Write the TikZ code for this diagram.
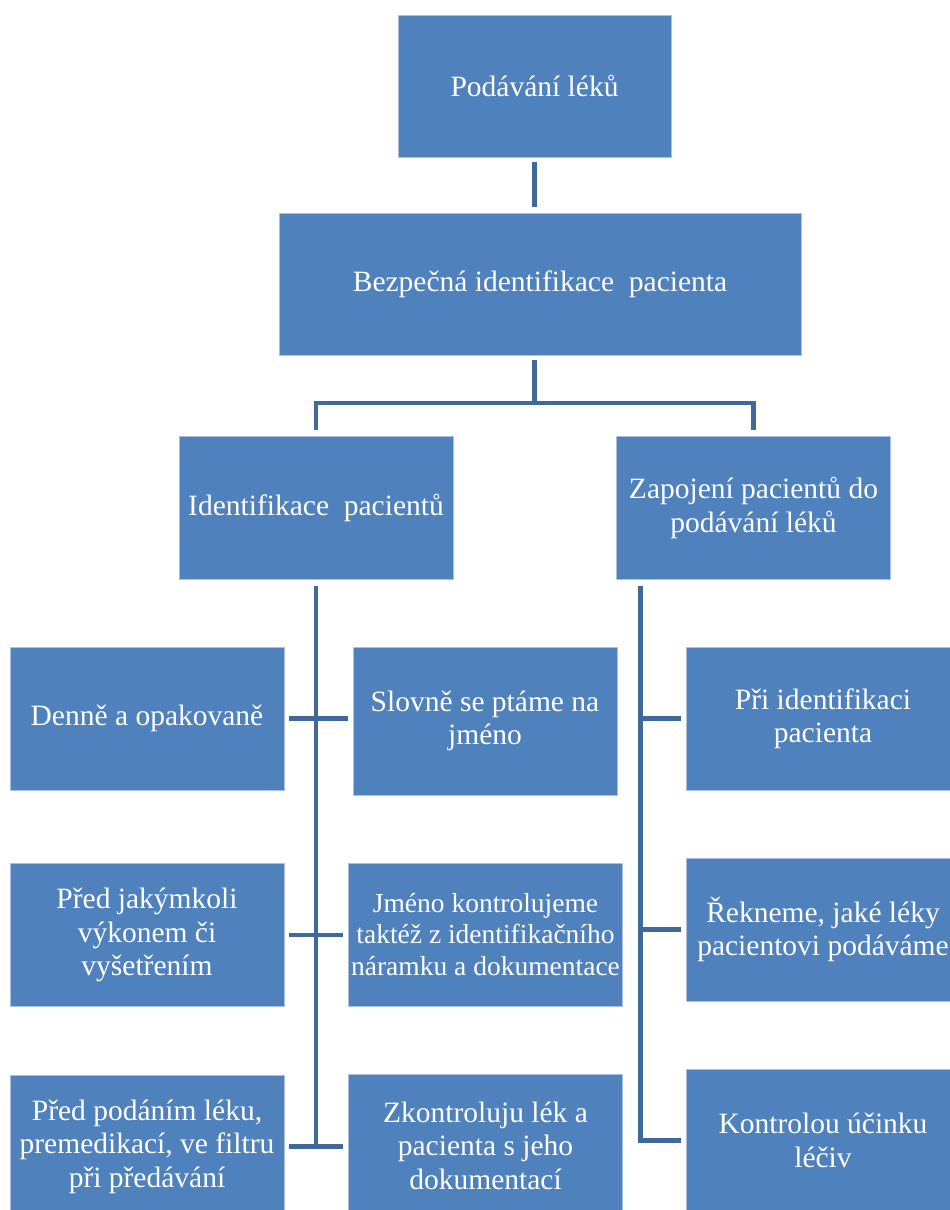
\documentclass[tikz,border=0pt]{standalone}
\usepackage{fontspec}
\setmainfont{Liberation Serif}
\definecolor{boxfill}{HTML}{4F81BD}
\definecolor{boxedge}{HTML}{A9C1DF}
\definecolor{connblue}{HTML}{41689B}
\begin{document}
\begin{tikzpicture}[x=1pt,y=-1pt,
  box/.style={rectangle, fill=boxfill, draw=boxedge, line width=0.8pt,
    text=white, align=center, inner sep=0pt,
    font=\fontsize{29.5}{33.5}\selectfont},
  smalltext/.style={font=\fontsize{27.5}{31.5}\selectfont},
  wide/.style={minimum width=274pt, minimum height=143pt},
  conn/.style={draw=connblue, line width=4.6pt}]
\useasboundingbox (0,0) rectangle (950,1210);
\clip (0,0) rectangle (950,1210);

% upper levels
\node[box, minimum width=273pt, minimum height=142pt] (top) at (534.5,86) {Podávání léků};
\node[box, minimum width=522pt, minimum height=142pt] (bez) at (540,284) {Bezpečná identifikace\ \ pacienta};
\node[box, wide] (idp) at (316,508) {Identifikace\ \ pacientů};
\node[box, wide] (zap) at (753.5,508) {Zapojení pacientů do\\podávání léků};

% left branch, outer column
\node[box, wide] (denne) at (147,718.5) {Denně a opakovaně};
\node[box, wide] (pjv) at (147,935) {Před jakýmkoli\\výkonem či\\vyšetřením};
\node[box, wide] (ppl) at (147,1146.5) {Před podáním léku,\\premedikací, ve filtru\\při předávání};

% left branch, inner column
\node[box, minimum width=264pt, minimum height=148pt] (slovne) at (485,721) {Slovně se ptáme na\\jméno};
\node[box, wide, smalltext] (jmeno) at (485.5,934.5) {Jméno kontrolujeme\\taktéž z identifikačního\\náramku a dokumentace};
\node[box, wide] (zk) at (485.5,1145.5) {Zkontroluju lék a\\pacienta s jeho\\dokumentací};

% right branch
\node[box, wide] (pri) at (823,718.5) {Při identifikaci\\pacienta};
\node[box, wide] (rek) at (823,929.5) {Řekneme, jaké léky\\pacientovi podáváme};
\node[box, wide] (kon) at (823,1140.5) {Kontrolou účinku\\léčiv};

% connectors of the upper levels
\draw[conn] ([yshift=-5pt]top.south) -- ([yshift=6pt]bez.north -| top.south);
\coordinate (fork) at (534.5,403);
\draw[conn] ([yshift=-5pt]bez.south -| fork) -- (fork);
\draw[conn] ([yshift=6pt]idp.north) -- (idp.north |- fork) -- (zap.north |- fork) -- ([yshift=6pt]zap.north);

% left trunk and its branches
\draw[conn] ([yshift=-6pt]idp.south) -- (idp.south |- ppl.east);
\draw[conn] ([xshift=5pt]denne.east) -- ([xshift=-5pt]slovne.west |- denne.east);
\draw[conn] ([xshift=5pt]pjv.east) -- ([xshift=-5pt]jmeno.west |- pjv.east);
\draw[conn] ([xshift=5pt]ppl.east) -- ([xshift=-5pt]zk.west |- ppl.east);

% right trunk and its branches
\coordinate (rtop) at ([xshift=24.5pt,yshift=-6pt]zap.south west);
\draw[conn] (rtop) |- ([xshift=-5pt]kon.west);
\draw[conn] (rtop |- pri.west) -- ([xshift=-5pt]pri.west);
\draw[conn] (rtop |- rek.west) -- ([xshift=-5pt]rek.west);
\end{tikzpicture}
\end{document}
